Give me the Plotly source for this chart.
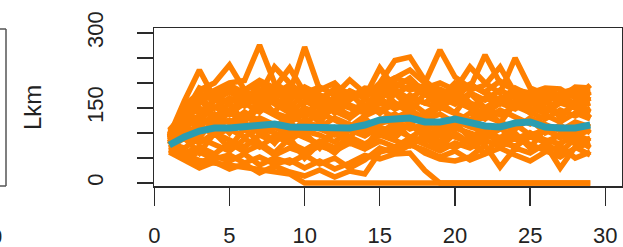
import plotly.graph_objects as go

x_vals = list(range(1, 30))

s_a = [72,58,45,40,36,30,26,22,18,0,0,0,0,0,0,0,0,0,0,0,0,0,0,0,0,0,0,0,0]
s_b = [66,50,62,48,56,40,52,38,46,30,44,28,40,55,48,58,60,25,0,0,0,0,0,0,0,0,0,0,0]
s_c = [62,46,30,42,28,38,20,34,22,14,26,12,24,18,62,70,80,60,48,44,52,76,32,70,60,78,30,72,56]
s_d = [68,52,40,54,44,58,36,50,40,56,38,50,30,46,70,60,76,66,52,64,46,58,70,56,44,62,74,50,62]
s_e = [74,60,72,58,80,62,76,56,70,60,74,64,80,68,84,72,90,76,64,80,70,86,72,90,78,66,52,70,80]
s_f = [80,70,90,76,64,88,72,94,80,66,84,70,92,78,96,84,74,96,82,70,88,100,80,74,92,82,96,78,90]
s_g = [84,96,80,100,86,72,96,82,104,90,78,100,86,70,98,108,92,84,104,92,80,96,110,88,100,86,78,98,84]
s_h = [88,100,114,96,108,92,110,100,86,104,96,82,106,94,112,100,116,104,94,110,100,90,108,118,96,106,92,104,110]
s_i = [92,112,98,118,104,120,100,112,94,116,108,96,114,102,120,126,108,118,100,124,112,104,90,112,128,100,116,94,106]
s_j = [96,118,134,112,126,108,130,116,102,124,112,130,118,104,126,138,120,132,110,128,116,134,122,108,130,118,104,122,112]
s_k = [100,126,112,138,120,142,124,110,136,120,140,126,112,134,148,130,144,126,138,120,140,128,146,132,118,136,122,140,128]
s_l = [104,132,150,130,146,128,152,136,120,142,130,150,136,156,140,160,144,130,152,140,126,148,136,154,140,128,146,134,150]
s_m = [106,140,126,152,138,160,142,168,150,136,158,144,130,152,170,148,162,140,156,172,150,138,160,148,166,150,138,156,142]
s_n = [98,146,168,150,170,154,176,158,140,164,150,172,156,144,168,150,176,160,182,164,150,170,158,176,162,148,166,154,170]
s_o = [94,150,140,166,182,164,186,170,152,178,166,150,172,186,170,186,168,190,172,158,180,166,186,170,156,178,162,180,166]
s_p = [90,156,180,164,190,172,160,188,170,192,176,160,184,170,196,178,194,176,160,184,198,180,166,188,174,186,170,160,182]
s_q = [86,140,190,176,160,186,198,178,196,180,170,184,166,188,176,200,186,195,188,174,196,182,204,186,170,182,176,188,176]
s_r = [95,164,226,170,186,160,200,180,165,190,176,160,184,170,200,245,252,205,180,170,196,180,166,190,176,160,180,188,176]
s_s = [82,140,186,200,236,186,205,190,230,180,192,176,206,180,196,210,200,190,200,186,232,200,180,250,190,178,170,192,190]
s_t = [78,130,170,186,200,205,276,200,180,272,186,200,170,190,186,210,226,200,266,212,190,256,200,186,180,190,188,170,196]
s_u = [100,120,160,180,196,180,176,232,200,170,160,190,180,172,230,190,210,180,170,200,186,196,232,180,170,186,176,180,186]
s_v = [104,110,130,120,140,126,150,140,130,150,140,160,150,140,160,150,170,160,150,170,160,150,170,160,150,140,160,150,140]
s_w = [92,150,120,170,140,180,150,190,160,130,170,140,180,150,190,160,140,180,150,190,160,130,170,150,180,140,170,150,160]
s_x = [88,130,170,130,160,120,170,140,190,150,120,160,130,170,140,180,150,120,160,140,180,150,120,160,140,170,130,160,130]
s_y = [76,110,90,130,100,140,110,80,120,100,70,110,90,130,100,120,90,110,80,120,90,110,80,100,70,110,90,120,100]
s_z = [70,90,60,100,70,110,80,60,90,50,80,60,90,70,110,90,120,90,70,100,80,60,90,70,100,80,60,90,70]

mean_line = [76,92,104,110,110,112,115,118,112,112,112,110,110,116,126,128,130,122,122,128,120,114,112,120,122,112,110,110,116]

y_tickvals = [0, 50, 100, 150, 200, 250, 300]
y_ticktext = ["0", "", "", "150", "", "", "300"]
x_tickvals = [0, 5, 10, 15, 20, 25, 30]
x_ticktext = ["0", "5", "10", "15", "20", "25", "30"]
y_title = "Lkm"

series = [s_a, s_b, s_c, s_d, s_e, s_f, s_g, s_h, s_i, s_j, s_k, s_l, s_m,
          s_n, s_o, s_p, s_q, s_r, s_s, s_t, s_u, s_v, s_w, s_x, s_y, s_z]

ORANGE = "#FF8000"
TEAL = "#2A9DB0"
AXC = "#2a2a2a"
FONT = "Liberation Sans, Arial, sans-serif"

fig = go.Figure()
for s in series:
    fig.add_trace(go.Scatter(x=x_vals, y=s, mode="lines",
                             line=dict(color=ORANGE, width=5.5),
                             hoverinfo="skip", showlegend=False))
fig.add_trace(go.Scatter(x=x_vals, y=mean_line, mode="lines",
                         line=dict(color=TEAL, width=7),
                         hoverinfo="skip", showlegend=False))

L, R, T, B = 154, 1, 28, 61
W, H = 623, 247
pw = W - L - R
ph = H - T - B

def px_x(p):
    return (p - L) / pw

def px_y(q):
    return (H - B - q) / ph

fig.update_layout(
    width=W, height=H,
    margin=dict(l=L, r=R, t=T, b=B, pad=0, autoexpand=False),
    paper_bgcolor="white", plot_bgcolor="white",
    font=dict(family=FONT, color="#222"),
    xaxis=dict(range=[-0.02, 31.11], tickvals=x_tickvals, ticktext=x_ticktext,
               showgrid=False, zeroline=False, showline=True, mirror=True,
               linecolor=AXC, linewidth=1.5, ticks="outside", ticklen=18,
               tickwidth=1.3, tickcolor=AXC, automargin=False,
               tickfont=dict(size=22, family=FONT, color="#222"),
               ticklabelstandoff=11),
    yaxis=dict(range=[-6, 310], tickvals=y_tickvals, ticktext=y_ticktext,
               showgrid=False, zeroline=False, showline=True, mirror=True,
               linecolor=AXC, linewidth=1.5, ticks="outside", ticklen=16,
               tickwidth=1.3, tickcolor=AXC, tickangle=-90, automargin=False,
               tickfont=dict(size=22, family=FONT, color="#222"),
               ticklabelstandoff=25),
)

fig.add_annotation(text=y_title, xref="paper", yref="paper",
                   x=px_x(32), y=px_y(107), xanchor="center", yanchor="middle",
                   textangle=-90, showarrow=False,
                   font=dict(size=24, family=FONT, color="#222"))

# neighbouring panel edge (cropped)
edge = "#555"
fig.add_shape(type="line", xref="paper", yref="paper",
              x0=px_x(6), x1=px_x(6), y0=px_y(29), y1=px_y(186),
              line=dict(color=edge, width=1.5))
fig.add_shape(type="line", xref="paper", yref="paper",
              x0=px_x(-5), x1=px_x(6), y0=px_y(29), y1=px_y(29),
              line=dict(color=edge, width=1.5))
fig.add_shape(type="line", xref="paper", yref="paper",
              x0=px_x(-5), x1=px_x(6), y0=px_y(186), y1=px_y(186),
              line=dict(color=edge, width=1.5))
fig.add_annotation(text="0", xref="paper", yref="paper",
                   x=px_x(-4), y=px_y(236), xanchor="center", yanchor="middle",
                   showarrow=False, font=dict(size=22, family=FONT, color="#222"))

fig.write_html("out.html",
               config={"displayModeBar": False, "staticPlot": True},
               post_script="document.body.style.margin='0';document.body.style.padding='0';document.body.style.overflow='hidden';")
